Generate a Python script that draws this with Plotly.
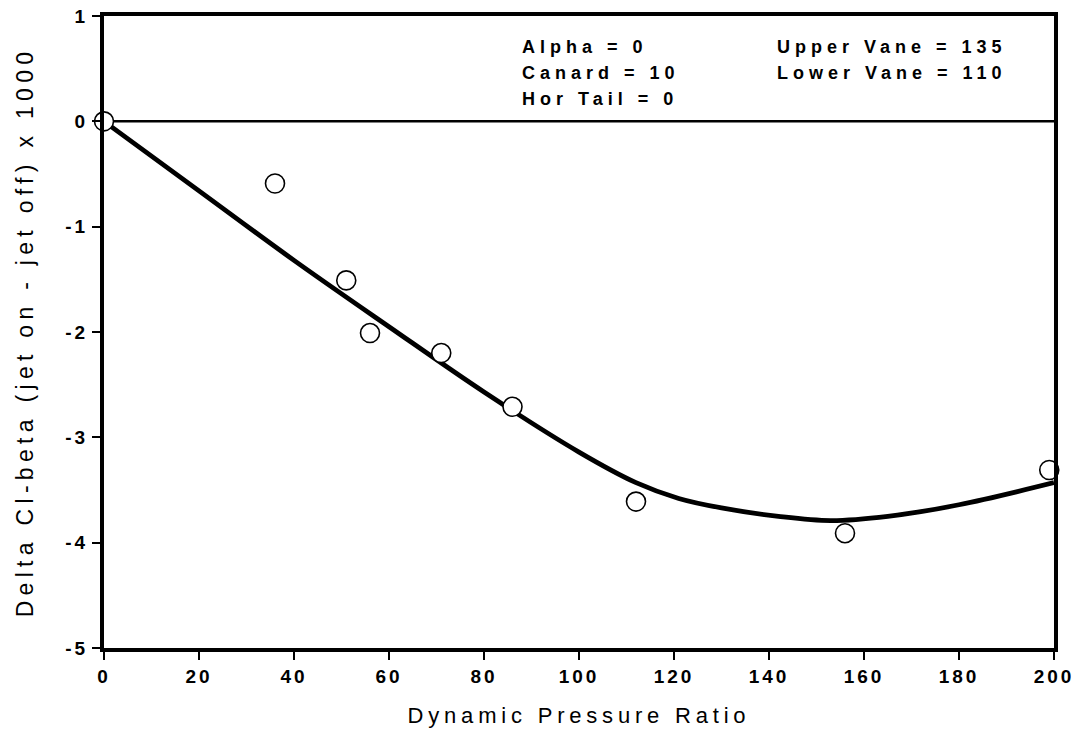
import plotly.graph_objects as go

# Measured data points
pt_x = [0, 36, 51, 56, 71, 86, 112, 156, 199]
pt_y = [0, -0.59, -1.51, -2.01, -2.20, -2.71, -3.61, -3.91, -3.31]

# Fitted curve
curve_x = [0, 20, 40, 60, 80, 100, 112, 121, 130, 142, 153, 165, 180, 200]
curve_y = [0, -0.66, -1.32, -1.95, -2.57, -3.14, -3.43, -3.58, -3.67, -3.75, -3.79, -3.75, -3.64, -3.43]

x_ticks = [0, 20, 40, 60, 80, 100, 120, 140, 160, 180, 200]
y_ticks = [1, 0, -1, -2, -3, -4, -5]

notes_left = ["Alpha = 0", "Canard = 10", "Hor Tail = 0"]
notes_right = ["Upper Vane = 135", "Lower Vane = 110"]
note_y = [0.706, 0.459, 0.212]

FONT = "Liberation Sans, Arial, sans-serif"

fig = go.Figure()
fig.add_trace(go.Scatter(x=curve_x, y=curve_y, mode="lines",
                         line=dict(color="black", width=4.8, shape="spline", smoothing=1.0),
                         hoverinfo="skip", showlegend=False))
fig.add_trace(go.Scatter(x=pt_x, y=pt_y, mode="markers",
                         marker=dict(symbol="circle", size=19, color="white",
                                     line=dict(color="black", width=1.6)),
                         cliponaxis=False, showlegend=False))

axis_common = dict(showgrid=False, zeroline=False, showline=True, linecolor="black",
                   linewidth=4, mirror=True, ticks="outside", ticklen=8, tickwidth=2,
                   tickcolor="black", automargin=False,
                   tickfont=dict(family=FONT, size=19, color="black", weight="bold"))

fig.update_xaxes(range=[0, 200], tickvals=x_ticks, ticktext=[str(v) for v in x_ticks],
                 title=dict(text="Dynamic Pressure Ratio", standoff=23,
                            font=dict(family=FONT, size=22, color="black")),
                 **axis_common)
fig.update_yaxes(range=[-5, 1], tickvals=y_ticks, ticktext=[str(v) for v in y_ticks],
                 title=dict(text="Delta Cl-beta (jet on - jet off) x 1000", standoff=32,
                            font=dict(family=FONT, size=23, color="black")),
                 **axis_common)

# zero reference line
fig.add_shape(type="line", xref="x", yref="y", x0=0, x1=200, y0=0, y1=0,
              line=dict(color="black", width=2.5), layer="below")

for t, yy in zip(notes_left, note_y):
    fig.add_annotation(text=t, xref="paper", yref="y", x=0.438, y=yy,
                       xanchor="left", yanchor="middle", align="left", showarrow=False,
                       font=dict(family=FONT, size=18, color="black", weight="bold"))
for t, yy in zip(notes_right, note_y):
    fig.add_annotation(text=t, xref="paper", yref="y", x=0.706, y=yy,
                       xanchor="left", yanchor="middle", align="left", showarrow=False,
                       font=dict(family=FONT, size=18, color="black", weight="bold"))

fig.update_layout(width=1080, height=743, margin=dict(l=104, r=26, t=16, b=95, autoexpand=False),
                  plot_bgcolor="white", paper_bgcolor="white")

css = (".xtick text, .ytick text{letter-spacing:3px;}"
       ".xtitle{letter-spacing:4.8px;}"
       ".ytitle{letter-spacing:5.3px;}"
       ".annotation-text{letter-spacing:5px;}")
post = ("var st=document.createElement('style');st.textContent='" + css +
        "';document.head.appendChild(st);")

fig.write_html("out.html", post_script=post)
